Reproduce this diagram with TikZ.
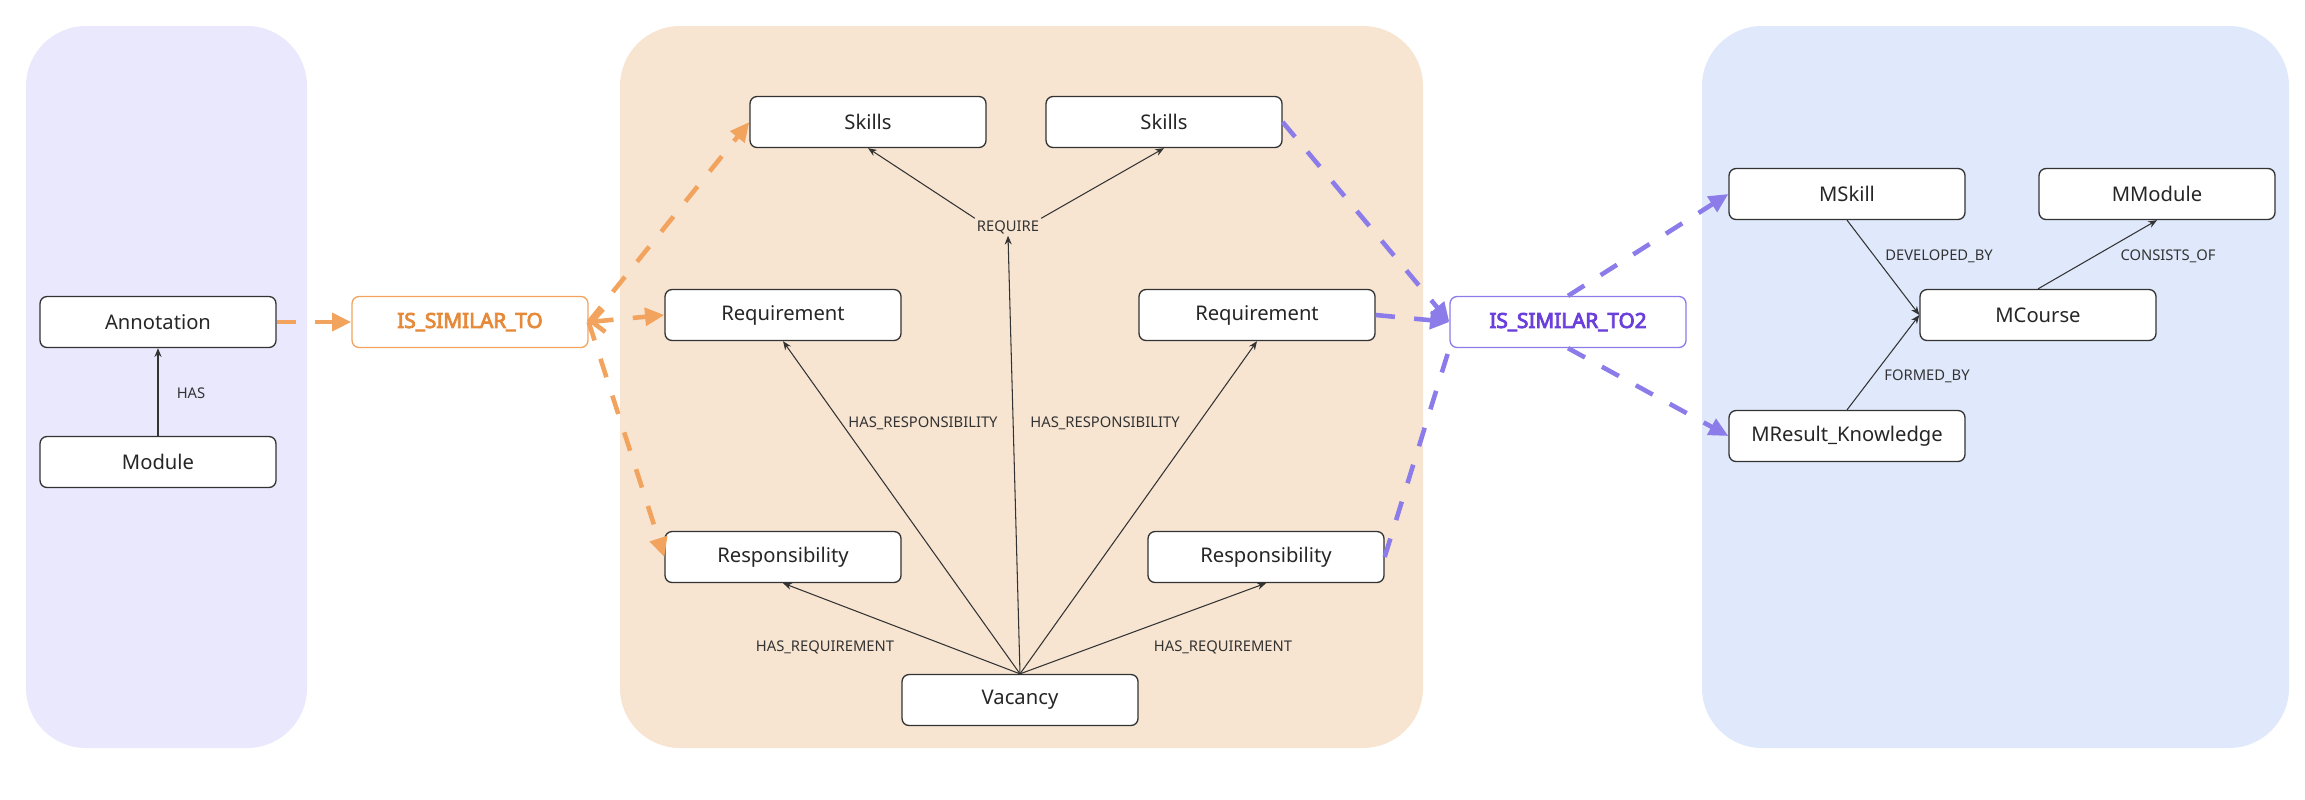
\documentclass[tikz,border=0pt]{standalone}
\usepackage{fontspec}
\setmainfont{Noto Sans}
\newfontfamily\simfont{Noto Sans}[FakeBold=4]
\usetikzlibrary{arrows.meta}

\definecolor{lavpanel}{HTML}{EAE8FD}
\definecolor{peachpanel}{HTML}{F7E5D2}
\definecolor{bluepanel}{HTML}{DFE9FB}
\definecolor{simorange}{HTML}{F2A35E}
\definecolor{simorangetxt}{HTML}{E68A3A}
\definecolor{simpurple}{HTML}{8C7CE9}
\definecolor{simpurpletxt}{HTML}{6A3FDB}
\definecolor{edgegray}{HTML}{333333}

\tikzset{
  entity/.style={draw=edgegray, fill=white, rounded corners=4pt, line width=0.75pt,
    minimum width=4.72cm, minimum height=1.02cm, inner sep=0pt,
    font=\fontsize{11.5}{13}\selectfont, text=black!85},
  simbox/.style={entity, font=\simfont\fontsize{11.8}{13}\selectfont},
  rel/.style={font=\fontsize{8.4}{10}\selectfont, text=edgegray, inner sep=1pt},
  link/.style={draw=edgegray, line width=0.6pt, -{Stealth[length=5pt,width=4pt]}},
  simlink/.style={dash pattern=on 11pt off 11pt, line width=2.6pt,
    -{Triangle[length=11pt,width=10pt]}},
  panel/.style={rounded corners=1.2cm}
}

\begin{document}
\begin{tikzpicture}[x=0.02cm, y=-0.02cm]
  \useasboundingbox (0,0) rectangle (2305,799);

  % groups
  \fill[lavpanel, panel] (26,26) rectangle (307,748);
  \fill[peachpanel, panel] (620,26) rectangle (1423,748);
  \fill[bluepanel, panel] (1702,26) rectangle (2289,748);

  % module side
  \node[entity] (annot) at (158,322) {Annotation};
  \node[entity] (module) at (158,462) {Module};
  \node[rel] (lblHas) at (191,393) {HAS};
  \draw[link] (module) -- (annot);

  \node[simbox, draw=simorange, text=simorangetxt] (simA) at (470,322) {IS\_SIMILAR\_TO};

  % vacancy side
  \node[entity] (skillsA) at (868,122) {Skills};
  \node[entity] (skillsB) at (1164,122) {Skills};
  \node[entity] (reqA) at (783,315) {Requirement};
  \node[entity] (reqB) at (1257,315) {Requirement};
  \node[entity] (respA) at (783,557) {Responsibility};
  \node[entity] (respB) at (1266,557) {Responsibility};
  \node[entity] (vac) at (1020,700) {Vacancy};

  \node[rel] (lblRequire) at (1008,227) {REQUIRE};
  \node[rel] (lblRespA) at (923,423) {HAS\_RESPONSIBILITY};
  \node[rel] (lblRespB) at (1105,423) {HAS\_RESPONSIBILITY};
  \node[rel] (lblReqA) at (825,647) {HAS\_REQUIREMENT};
  \node[rel] (lblReqB) at (1223,647) {HAS\_REQUIREMENT};

  \draw[link] (vac.north) -- (lblRequire.south);
  \draw[link] (lblRequire.north west) -- (skillsA.south);
  \draw[link] (lblRequire.north east) -- (skillsB.south);
  \draw[link] (vac.north) -- (reqA.south);
  \draw[link] (vac.north) -- (reqB.south);
  \draw[link] (vac.north) -- (respA.south);
  \draw[link] (vac.north) -- (respB.south);

  \node[simbox, draw=simpurple, text=simpurpletxt] (simB) at (1568,322) {IS\_SIMILAR\_TO2};

  % course side
  \node[entity] (mskill) at (1847,194) {MSkill};
  \node[entity] (mmodule) at (2157,194) {MModule};
  \node[entity] (mcourse) at (2038,315) {MCourse};
  \node[entity] (mresult) at (1847,436) {MResult\_Knowledge};

  \node[rel] (lblDev) at (1939,256) {DEVELOPED\_BY};
  \node[rel] (lblForm) at (1927,376) {FORMED\_BY};
  \node[rel] (lblCons) at (2168,256) {CONSISTS\_OF};

  \draw[link] (mskill.south) -- (mcourse.west);
  \draw[link] (mresult.north) -- (mcourse.west);
  \draw[link] (mcourse.north) -- (mmodule.south);

  % similarity links
  \draw[simlink, simorange] (annot) -- (simA);
  \draw[simlink, simorange] (simA.east) -- (skillsA.west);
  \draw[simlink, simorange, {Straight Barb[length=7pt,width=13pt]}-{Triangle[length=11pt,width=10pt]}] (simA.east) -- (reqA.west);
  \draw[simlink, simorange] (simA.east) -- (respA.west);

  \draw[simlink, simpurple] (skillsB.east) -- (simB.west);
  \draw[simlink, simpurple] (reqB.east) -- (simB.west);
  \draw[simlink, simpurple, -] (respB.east) -- (simB.south west);
  \draw[simlink, simpurple] (simB.north) -- (mskill.west);
  \draw[simlink, simpurple] (simB.south) -- (mresult.west);
\end{tikzpicture}
\end{document}
